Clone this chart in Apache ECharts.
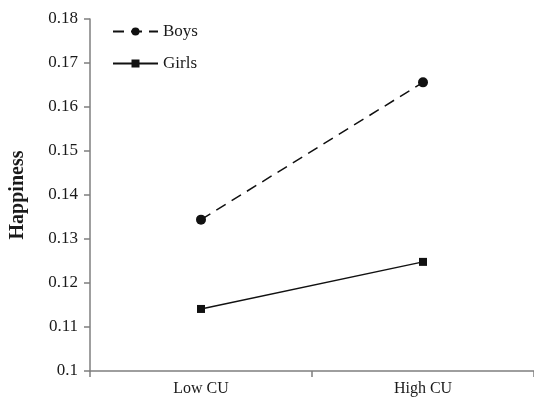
<!DOCTYPE html>
<html>
<head>
<meta charset="utf-8">
<script src="https://cdn.jsdelivr.net/npm/echarts@6/dist/echarts.min.js"></script>
<style>html,body{margin:0;padding:0;background:#fff}#c{width:534px;height:400px}</style>
</head>
<body>
<div id="c"></div>
<script>
const categories = ['Low CU', 'High CU'];
const boys = [0.1344, 0.1656];
const girls = [0.1141, 0.1248];
const yTicks = { min: 0.1, max: 0.18, step: 0.01 };

const font = '"Liberation Serif", "Times New Roman", serif';
const axisCol = '#7f7f7f';
const chart = echarts.init(document.getElementById('c'));
chart.setOption({
  animation: false,
  backgroundColor: '#fff',
  textStyle: { fontFamily: font },
  grid: { left: 84, right: -1, top: 19, bottom: 29, containLabel: false },
  legend: {
    orient: 'vertical',
    left: 112,
    top: 23,
    padding: 0,
    itemWidth: 45,
    itemHeight: 10,
    itemGap: 15,
    textStyle: { fontFamily: font, fontSize: 17, color: '#1a1a1a' },
    data: ['Boys', 'Girls']
  },
  xAxis: {
    type: 'category',
    data: categories,
    boundaryGap: true,
    axisLine: { lineStyle: { color: axisCol, width: 1.5 } },
    axisTick: { show: true, length: 6, inside: false, lineStyle: { color: axisCol, width: 1.5 } },
    axisLabel: { fontFamily: font, fontSize: 16, color: '#1a1a1a', margin: 10 },
    splitLine: { show: false }
  },
  yAxis: {
    type: 'value',
    min: yTicks.min,
    max: yTicks.max,
    interval: yTicks.step,
    name: 'Happiness',
    nameLocation: 'middle',
    nameRotate: 90,
    nameGap: 62,
    nameTextStyle: { fontFamily: font, fontSize: 20, fontWeight: 'bold', color: '#1a1a1a' },
    axisLine: { show: true, lineStyle: { color: axisCol, width: 1.5 } },
    axisTick: { show: true, length: 6, lineStyle: { color: axisCol, width: 1.5 } },
    axisLabel: {
      fontFamily: font, fontSize: 17, color: '#1a1a1a', margin: 12,
      formatter: v => String(parseFloat(v.toFixed(2)))
    },
    splitLine: { show: false }
  },
  series: [
    {
      name: 'Boys',
      type: 'line',
      data: boys,
      symbol: 'circle',
      symbolSize: 10,
      itemStyle: { color: '#111' },
      lineStyle: { color: '#111', width: 1.5, type: [11, 7] }
    },
    {
      name: 'Girls',
      type: 'line',
      data: girls,
      symbol: 'rect',
      symbolSize: 8,
      itemStyle: { color: '#111' },
      lineStyle: { color: '#111', width: 1.5, type: 'solid' }
    }
  ]
});
</script>
</body>
</html>
